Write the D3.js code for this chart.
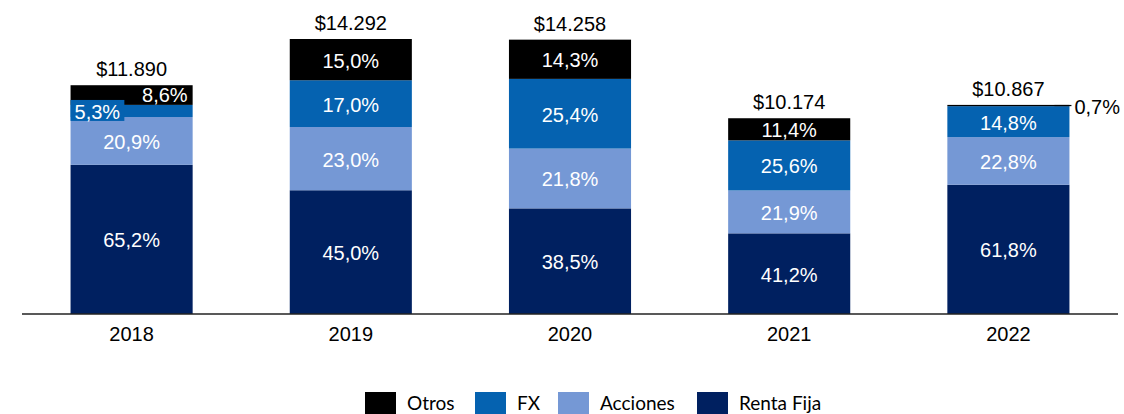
<!DOCTYPE html>
<html>
<head>
<meta charset="utf-8">
<script src="https://cdn.jsdelivr.net/npm/d3@7"></script>
<style>
  html, body { margin: 0; padding: 0; background: #fff; }
  svg { display: block; }
</style>
</head>
<body>
<svg id="chart" width="1124" height="414"></svg>
<script>
// Portfolio composition by year: totals and percentage share of each asset class
const years = ["2018", "2019", "2020", "2021", "2022"];
const totals = [11890, 14292, 14258, 10174, 10867];
const totalLabels = ["$11.890", "$14.292", "$14.258", "$10.174", "$10.867"];
const rentaFija = [65.2, 45.0, 38.5, 41.2, 61.8];
const acciones = [20.9, 23.0, 21.8, 21.9, 22.8];
const fx = [5.3, 17.0, 25.4, 25.6, 14.8];
const otros = [8.6, 15.0, 14.3, 11.4, 0.7];

// Stack order bottom → top
const seriesNames = ["Renta Fija", "Acciones", "FX", "Otros"];
const seriesValues = [rentaFija, acciones, fx, otros];
const colors = {
  "Renta Fija": "#002060",
  "Acciones": "#7598D5",
  "FX": "#0562B0",
  "Otros": "#000000"
};
const legendOrder = ["Otros", "FX", "Acciones", "Renta Fija"];

const svg = d3.select("#chart");
const baseY = 314;

const x = d3.scaleBand()
  .domain(years)
  .range([22, 1118])
  .paddingInner(0.443)
  .paddingOuter(0.2215);

const y = d3.scaleLinear()
  .domain([0, 14292])
  .range([baseY, 39]);

const labelFont = "'Liberation Sans', Arial, sans-serif";

// Build stacked segments in value units (share of total)
const segments = [];
years.forEach((yr, i) => {
  let cum = 0;
  seriesNames.forEach((name, s) => {
    const pct = seriesValues[s][i];
    const v0 = totals[i] * cum / 100;
    cum += pct;
    const v1 = totals[i] * Math.min(cum, 100) / 100;
    segments.push({ year: yr, i, name, pct, v0, v1 });
  });
});

const g = svg.append("g");

g.selectAll("rect.seg")
  .data(segments)
  .join("rect")
  .attr("class", "seg")
  .attr("x", d => x(d.year))
  .attr("width", x.bandwidth())
  .attr("y", d => y(d.v1))
  .attr("height", d => y(d.v0) - y(d.v1))
  .attr("fill", d => colors[d.name]);

const fmtPct = v => v.toFixed(1).replace(".", ",") + "%";

// Segment labels
segments.forEach(d => {
  const x0 = x(d.year), x1 = x0 + x.bandwidth();
  const cy = (y(d.v0) + y(d.v1)) / 2;
  const label = fmtPct(d.pct);
  if (d.year === "2018" && d.name === "FX") {
    // narrow segment: label left-aligned on a colored box
    const t = g.append("text")
      .attr("x", x0 + 4).attr("y", cy + 1)
      .attr("dominant-baseline", "central")
      .attr("font-family", labelFont).attr("font-size", 20)
      .attr("fill", "#fff").text(label);
    const bb = t.node().getBBox();
    g.insert("rect", () => t.node())
      .attr("x", x0).attr("y", cy - 11)
      .attr("width", bb.width + 8).attr("height", 21)
      .attr("fill", colors.FX);
  } else if (d.year === "2018" && d.name === "Otros") {
    g.append("text")
      .attr("x", x1 - 5).attr("y", cy)
      .attr("text-anchor", "end")
      .attr("dominant-baseline", "central")
      .attr("font-family", labelFont).attr("font-size", 20)
      .attr("fill", "#fff").text(label);
  } else if (d.year === "2022" && d.name === "Otros") {
    // tiny segment: label outside with leader line
    g.append("line")
      .attr("x1", x1 - 15).attr("x2", x1 + 2)
      .attr("y1", cy).attr("y2", cy)
      .attr("stroke", "#000").attr("stroke-width", 1.2);
    g.append("text")
      .attr("x", x1 + 5).attr("y", cy + 1)
      .attr("dominant-baseline", "central")
      .attr("font-family", labelFont).attr("font-size", 20)
      .attr("fill", "#000").text(label);
  } else {
    g.append("text")
      .attr("x", x0 + x.bandwidth() / 2).attr("y", cy + 1)
      .attr("text-anchor", "middle")
      .attr("dominant-baseline", "central")
      .attr("font-family", labelFont).attr("font-size", 20)
      .attr("fill", "#fff").text(label);
  }
});

// Totals above bars
g.selectAll("text.total")
  .data(years)
  .join("text")
  .attr("class", "total")
  .attr("x", d => x(d) + x.bandwidth() / 2)
  .attr("y", (d, i) => y(totals[i]) - 9)
  .attr("text-anchor", "middle")
  .attr("font-family", labelFont).attr("font-size", 20)
  .attr("fill", "#000")
  .text((d, i) => totalLabels[i]);

// Category axis
const axis = svg.append("g")
  .attr("transform", `translate(0,${baseY})`)
  .call(d3.axisBottom(x).tickSize(0).tickPadding(13));
axis.select(".domain")
  .attr("d", `M22,0H1118`)
  .attr("stroke", "#222").attr("stroke-width", 1.6);
axis.selectAll("text")
  .attr("font-family", labelFont).attr("font-size", 20)
  .attr("fill", "#000")
  .attr("dy", "0.71em");

// Legend
const legendX = [365, 475, 558, 697];
const legend = svg.append("g");
legendOrder.forEach((name, k) => {
  legend.append("rect")
    .attr("x", legendX[k]).attr("y", 392)
    .attr("width", 31).attr("height", 23)
    .attr("fill", colors[name]);
  legend.append("text")
    .attr("x", legendX[k] + 42).attr("y", 410)
    .attr("font-family", "Lato, 'Open Sans', sans-serif").attr("font-size", 19)
    .attr("fill", "#000").text(name);
});
</script>
</body>
</html>
